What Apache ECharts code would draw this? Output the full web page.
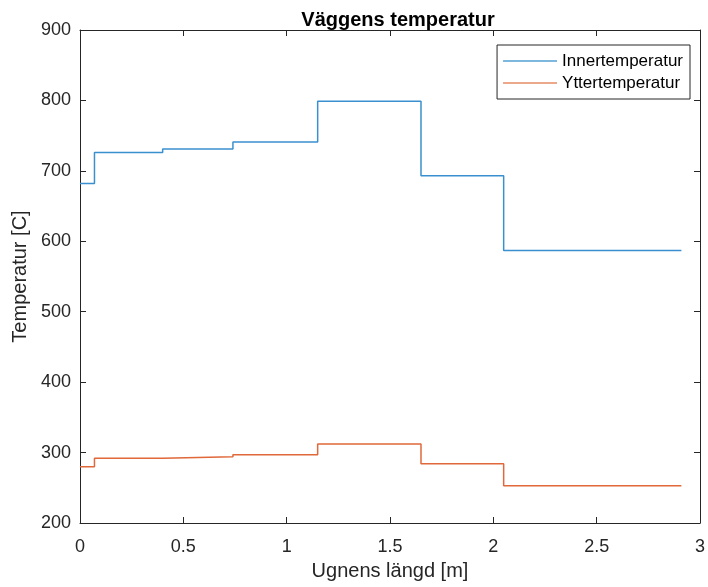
<!DOCTYPE html>
<html>
<head>
<meta charset="utf-8">
<script src="https://cdn.jsdelivr.net/npm/echarts@6/dist/echarts.min.js"></script>
<style>html,body{margin:0;padding:0;background:#fff}#c{width:708px;height:587px}</style>
</head>
<body>
<div id="c"></div>
<script>
var xEdges = [0, 0.07, 0.4, 0.74, 1.15, 1.65, 2.05, 2.91];
var innerTemp = [682, 726, 731, 741, 799, 693, 587];
var outerTemp = [280, 292, 294, 297, 312, 284, 253];
var xTicks = [0, 0.5, 1, 1.5, 2, 2.5, 3];
var yTicks = [200, 300, 400, 500, 600, 700, 800, 900];

// each value holds from xEdges[i] to xEdges[i+1]
function stairs(vals) {
  var pts = [];
  for (var i = 0; i < vals.length; i++) pts.push([xEdges[i], vals[i]]);
  pts.push([xEdges[vals.length], vals[vals.length - 1]]);
  return pts;
}

var font = 'Liberation Sans, Arial, sans-serif';
var axisCol = '#262626';
var chart = echarts.init(document.getElementById('c'));
var baseX = {
  type: 'value', min: 0, max: 3, interval: 0.5,
  axisLine: {show: true, onZero: false, lineStyle: {color: axisCol, width: 1}},
  axisTick: {show: true, inside: true, length: 6, lineStyle: {color: axisCol}},
  splitLine: {show: false}
};
var baseY = {
  type: 'value', min: 200, max: 900, interval: 100,
  axisLine: {show: true, onZero: false, lineStyle: {color: axisCol, width: 1}},
  axisTick: {show: true, inside: true, length: 6, lineStyle: {color: axisCol}},
  splitLine: {show: false}
};
chart.setOption({
  animation: false,
  title: {
    text: 'Väggens temperatur', left: 393, top: 5, textAlign: 'center',
    textStyle: {fontFamily: font, fontWeight: 'bold', fontSize: 20, color: '#000'}
  },
  legend: {
    right: 18, top: 45, orient: 'vertical', itemGap: 2,
    padding: [6, 7, 6, 6],
    borderColor: '#262626', borderWidth: 1, backgroundColor: '#fff', borderRadius: 0,
    itemWidth: 54, itemHeight: 1,
    icon: 'rect',
    textStyle: {fontFamily: font, fontSize: 17, color: '#000', lineHeight: 20},
    data: ['Innertemperatur', 'Yttertemperatur']
  },
  grid: {left: 80, right: 4, top: 30, bottom: 64},
  xAxis: [
    Object.assign({}, baseX, {
      position: 'bottom',
      name: 'Ugnens längd [m]', nameLocation: 'middle', nameGap: 38,
      nameTextStyle: {fontFamily: font, fontSize: 20, color: axisCol},
      axisLabel: {fontFamily: font, fontSize: 18, color: axisCol, margin: 15,
        formatter: function (v) { return xTicks.indexOf(v) >= 0 ? String(v) : ''; }}
    }),
    Object.assign({}, baseX, {position: 'top', axisLabel: {show: false}})
  ],
  yAxis: [
    Object.assign({}, baseY, {
      position: 'left',
      name: 'Temperatur [C]', nameLocation: 'middle', nameGap: 48,
      nameTextStyle: {fontFamily: font, fontSize: 20, color: axisCol},
      axisLabel: {fontFamily: font, fontSize: 18, color: axisCol, margin: 9,
        formatter: function (v) { return yTicks.indexOf(v) >= 0 ? String(v) : ''; }}
    }),
    Object.assign({}, baseY, {position: 'right', axisLabel: {show: false}})
  ],
  series: [
    {
      name: 'Innertemperatur', type: 'line', step: 'end', showSymbol: false,
      data: stairs(innerTemp), color: '#0072BD',
      lineStyle: {color: '#3A90CF', width: 1.5}
    },
    {
      name: 'Yttertemperatur', type: 'line', step: 'end', showSymbol: false,
      data: stairs(outerTemp), color: '#D95319',
      lineStyle: {color: '#E0683A', width: 1.5}
    }
  ]
});
</script>
</body>
</html>
